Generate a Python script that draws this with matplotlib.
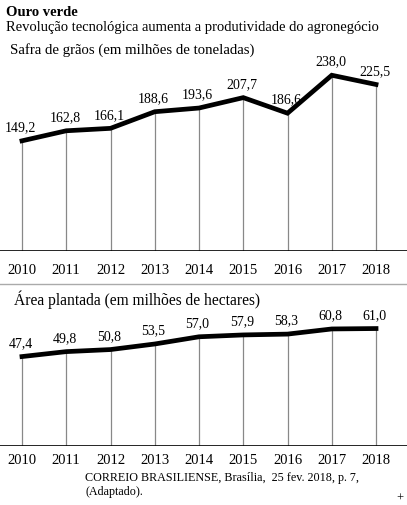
import matplotlib
matplotlib.use("Agg")
import matplotlib.pyplot as plt

years = [2010, 2011, 2012, 2013, 2014, 2015, 2016, 2017, 2018]
safra = [149.2, 162.8, 166.1, 188.6, 193.6, 207.7, 186.6, 238.0, 225.5]
area = [47.4, 49.8, 50.8, 53.5, 57.0, 57.9, 58.3, 60.8, 61.0]

plt.rcParams['font.family'] = ['Liberation Serif', 'DejaVu Serif']

W, H = 407, 506
fig = plt.figure(figsize=(W / 100, H / 100), dpi=100)


def px_axes(top, bottom):
    # axes spanning full width, between pixel rows top and bottom
    return fig.add_axes([0, 1 - bottom / H, 1, (bottom - top) / H])


def panel(ax, vals, ylim, lab_off):
    ax.set_xlim(2009.503, 2018.70)
    ax.set_ylim(*ylim)
    ax.vlines(years, ylim[0], vals, color='#888888', lw=0.9)
    ax.plot(years, vals, color='black', lw=3.4, solid_joinstyle='miter')
    ax.axhline(ylim[0], color='black', lw=1.2)
    for x, v in zip(years, vals):
        ax.annotate(f"{v:.1f}".replace('.', ','), (x, v), xytext=(-1, lab_off),
                    textcoords='offset points', ha='center', va='bottom', fontsize=10)
    ax.axis('off')


ax1 = px_axes(60, 252)
panel(ax1, safra, (0, 260), 5.5)
ax2 = px_axes(318, 447)
panel(ax2, area, (4, 66.6), 5.5)

# year labels
for ax, ypix in [(ax1, 271), (ax2, 461)]:
    for x in years:
        xf = (x - 2009.503) / (2018.70 - 2009.503)
        fig.text(xf, 1 - ypix / H, str(x), ha='center', va='center', fontsize=10.5)

fig.add_artist(plt.Line2D([0, 1], [1 - 285 / H] * 2, color='#aaaaaa', lw=1))

fig.text(6 / W, 1 - 13 / H, "Ouro verde", fontweight='bold', fontsize=10.5, va='center')
fig.text(6 / W, 1 - 28 / H, "Revolução tecnológica aumenta a produtividade do agronegócio",
         fontsize=10.5, va='center')
fig.text(10 / W, 1 - 50 / H, "Safra de grãos (em milhões de toneladas)", fontsize=10.6, va='center')
fig.text(14 / W, 1 - 300 / H, "Área plantada (em milhões de hectares)", fontsize=11.2, va='center')
fig.text(85 / W, 1 - 478 / H, "CORREIO BRASILIENSE, Brasília,  25 fev. 2018, p. 7,",
         fontsize=8.7, va='center')
fig.text(85 / W, 1 - 492 / H, "(Adaptado).", fontsize=8.7, va='center')
fig.text(400 / W, 1 - 499 / H, "+", fontsize=9, ha='center', va='center')

fig.savefig("out.png", dpi=100)
